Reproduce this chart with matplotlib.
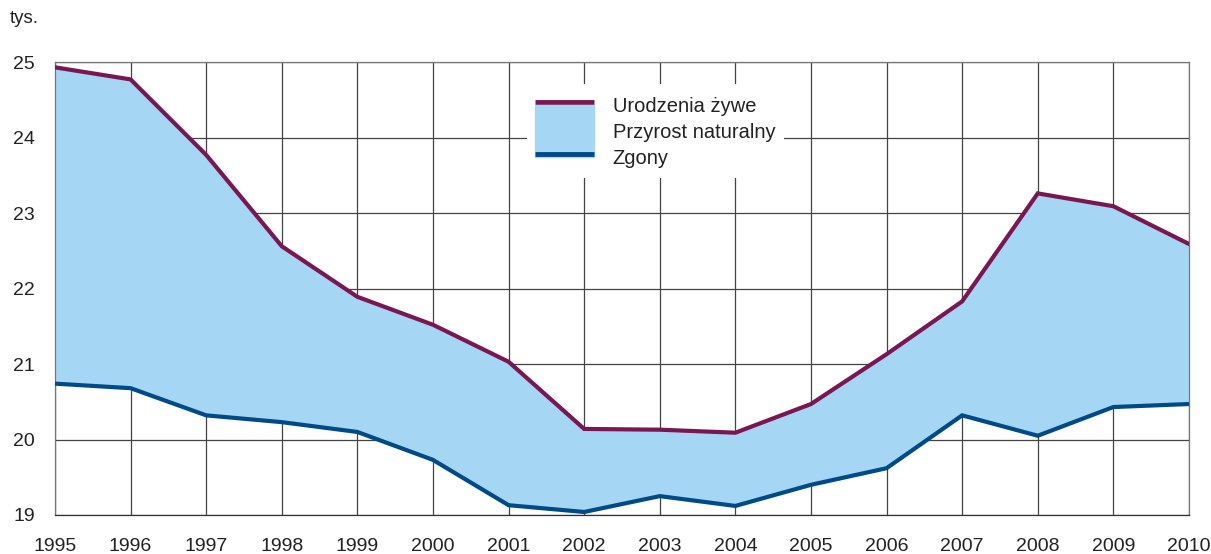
import matplotlib
matplotlib.use("Agg")
import matplotlib.pyplot as plt
from matplotlib.lines import Line2D
from matplotlib.patches import Patch, Rectangle
from matplotlib.legend_handler import HandlerPatch

plt.rcParams['font.family'] = ['Liberation Sans', 'DejaVu Sans']

# dane (tys.)
lata = list(range(1995, 2011))
urodzenia = [24.93, 24.77, 23.77, 22.56, 21.89, 21.52, 21.03, 20.14,
             20.13, 20.09, 20.47, 21.13, 21.83, 23.26, 23.09, 22.59]
zgony = [20.74, 20.68, 20.32, 20.23, 20.10, 19.73, 19.13, 19.04,
         19.25, 19.12, 19.40, 19.62, 20.32, 20.05, 20.43, 20.47]

c_ur = '#7a1650'
c_zg = '#004b87'
c_fill = '#a5d7f5'


def tall_patch(legend, orig_handle, xdescent, ydescent, width, height, fontsize):
    # prostokat rozciagniety na trzy wiersze legendy
    return Rectangle((-xdescent, -ydescent - height / 2), width, 2 * height)


fig = plt.figure(figsize=(12.11, 5.54), dpi=100)
ax = fig.add_axes([0.0454, 0.0704, 0.9364, 0.8176])

ax.fill_between(lata, zgony, urodzenia, color=c_fill, lw=0, zorder=2)
ax.plot(lata, urodzenia, color=c_ur, lw=3, zorder=3, solid_joinstyle='miter')
ax.plot(lata, zgony, color=c_zg, lw=3, zorder=3, solid_joinstyle='miter')

ax.set_xlim(1995, 2010)
ax.set_ylim(19, 25)
ax.set_xticks(lata)
ax.set_yticks(range(19, 26))
ax.grid(True, color='#444444', lw=0.9, zorder=1)
ax.set_axisbelow(True)
for s in ax.spines.values():
    s.set_color('#777777')
    s.set_linewidth(0.9)
ax.spines['bottom'].set_color('#333333')
ax.tick_params(length=0, labelsize=14, colors='#222222')
ax.tick_params(axis='x', pad=16.5)
ax.tick_params(axis='y', pad=14.5)

fig.text(0.008, 0.967, 'tys.', fontsize=13.5, color='#222222', va='center')

handles = [Line2D([], [], color=c_ur, lw=3.5, solid_capstyle='butt'),
           Patch(color=c_fill),
           Line2D([], [], color=c_zg, lw=3.5, solid_capstyle='butt')]
labels = ['Urodzenia żywe', 'Przyrost naturalny', 'Zgony']
leg = ax.legend(handles, labels, loc='upper left', bbox_to_anchor=(0.416, 0.952),
                fontsize=14.5, labelspacing=0, handlelength=2.9, handleheight=1.6,
                handletextpad=0.95, borderpad=0.42, borderaxespad=0,
                frameon=True, framealpha=1,
                fancybox=False, edgecolor='none', facecolor='white',
                handler_map={Patch: HandlerPatch(patch_func=tall_patch)})
leg.set_zorder(5)
for t in leg.get_texts():
    t.set_color('#222222')
# linie nad wypelnieniem w legendzie
leg.legend_handles[1].set_zorder(0)

fig.savefig('out.png', dpi=100)
